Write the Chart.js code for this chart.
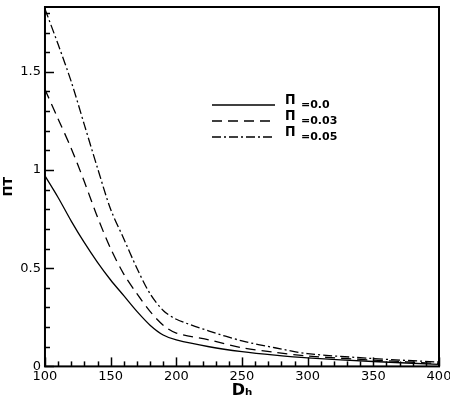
<!DOCTYPE html>
<html>
<head>
<meta charset="utf-8">
<script src="https://cdn.jsdelivr.net/npm/chart.js@4"></script>
<style>
  html, body { margin: 0; padding: 0; background: #fff; }
  #wrap { width: 450px; height: 402px; }
</style>
</head>
<body>
<div id="wrap"><canvas id="grafico"></canvas></div>
<script>
// datos
const dh = [100, 110, 120, 130, 140, 150, 160, 170, 180, 190, 200, 225, 250, 275, 300, 350, 400];
const serie00 = [0.97, 0.86, 0.74, 0.63, 0.53, 0.44, 0.36, 0.28, 0.21, 0.16, 0.135, 0.10, 0.075, 0.057, 0.043, 0.025, 0.010];
const serie03 = [1.41, 1.26, 1.11, 0.94, 0.76, 0.60, 0.47, 0.37, 0.28, 0.21, 0.17, 0.135, 0.095, 0.072, 0.053, 0.032, 0.015];
const serie05 = [1.82, 1.64, 1.45, 1.23, 1.01, 0.80, 0.65, 0.50, 0.37, 0.285, 0.24, 0.18, 0.13, 0.095, 0.065, 0.04, 0.022];
const etiquetas = ["=0.0", "=0.03", "=0.05"];
const simbolo = "Π";
const xTicks = [100, 150, 200, 250, 300, 350, 400];
const yTicks = [0, 0.5, 1, 1.5];

const puntos = ys => dh.map((x, i) => ({ x: x, y: ys[i] }));
const sinPadding = s => { s.paddingLeft = 0; s.paddingRight = 0; s.paddingTop = 0; s.paddingBottom = 0; };

// ticks hacia adentro + marco + leyenda
const marco = {
    id: 'marco',
    afterDraw(chart) {
        const ctx = chart.ctx;
        const a = chart.chartArea;
        const sx = chart.scales.x, sy = chart.scales.y;
        ctx.save();
        ctx.strokeStyle = '#000';
        ctx.lineWidth = 1.5;
        for (let v = 100; v <= 400; v += 10) {
            const px = Math.round(sx.getPixelForValue(v)) + 0.5;
            const len = v % 50 === 0 ? 9 : 5;
            ctx.beginPath();
            ctx.moveTo(px, a.bottom);
            ctx.lineTo(px, a.bottom - len);
            ctx.stroke();
        }
        for (let k = 0; k <= 18; k++) {
            const py = Math.round(sy.getPixelForValue(k / 10)) + 0.5;
            const len = k % 5 === 0 ? 9 : 5;
            ctx.beginPath();
            ctx.moveTo(a.left, py);
            ctx.lineTo(a.left + len, py);
            ctx.stroke();
        }
        ctx.lineWidth = 2;
        ctx.strokeRect(a.left, a.top, a.right - a.left, a.bottom - a.top);

        // leyenda
        const x0 = 212, x1 = 275;
        chart.data.datasets.forEach((ds, i) => {
            const y = 105 + i * 16;
            ctx.lineWidth = 1.3;
            ctx.setLineDash(ds.borderDash || []);
            ctx.beginPath();
            ctx.moveTo(x0, y);
            ctx.lineTo(x1, y);
            ctx.stroke();
            ctx.setLineDash([]);
            ctx.fillStyle = '#000';
            ctx.textBaseline = 'middle';
            ctx.font = 'bold 14px "DejaVu Sans Condensed"';
            ctx.fillText(simbolo, 285, y - 5);
            ctx.font = 'bold 11px "DejaVu Sans"';
            ctx.fillText(ds.label, 301, y);
        });
        ctx.restore();
    }
};

const ctx = document.getElementById('grafico').getContext('2d');
new Chart(ctx, {
    type: 'line',
    data: {
        datasets: [
            { label: etiquetas[0], data: puntos(serie00), borderColor: '#000', borderWidth: 1.3, pointRadius: 0, tension: 0.3, fill: false },
            { label: etiquetas[1], data: puntos(serie03), borderColor: '#000', borderWidth: 1.3, pointRadius: 0, tension: 0.3, fill: false, borderDash: [10, 6] },
            { label: etiquetas[2], data: puntos(serie05), borderColor: '#000', borderWidth: 1.3, pointRadius: 0, tension: 0.3, fill: false, borderDash: [9, 3, 2, 3] }
        ]
    },
    options: {
        responsive: true,
        maintainAspectRatio: false,
        animation: false,
        layout: { padding: { left: 0, right: 11, top: 7, bottom: 0 } },
        plugins: { legend: { display: false }, tooltip: { enabled: false } },
        scales: {
            x: {
                type: 'linear',
                min: 100, max: 400,
                afterBuildTicks: s => { s.ticks = xTicks.map(v => ({ value: v })); },
                afterFit: sinPadding,
                grid: { display: false, drawTicks: false },
                border: { display: false },
                ticks: { color: '#000', padding: 2, maxRotation: 0, font: { family: 'DejaVu Sans', size: 13 } },
                title: { display: true, text: 'Dₕ', color: '#000', padding: { top: -3, bottom: 3 }, font: { family: 'DejaVu Sans', size: 16, weight: 'bold', lineHeight: 1 } }
            },
            y: {
                type: 'linear',
                min: 0, max: 1.83,
                afterBuildTicks: s => { s.ticks = yTicks.map(v => ({ value: v })); },
                afterFit: sinPadding,
                grid: { display: false, drawTicks: false },
                border: { display: false },
                ticks: { color: '#000', padding: 4, font: { family: 'DejaVu Sans', size: 13 }, callback: v => String(v) },
                title: { display: true, text: simbolo + 'T', color: '#000', padding: 1, font: { family: 'DejaVu Sans', size: 13, weight: 'bold', lineHeight: 1.1 } }
            }
        }
    },
    plugins: [marco]
});
</script>
</body>
</html>
